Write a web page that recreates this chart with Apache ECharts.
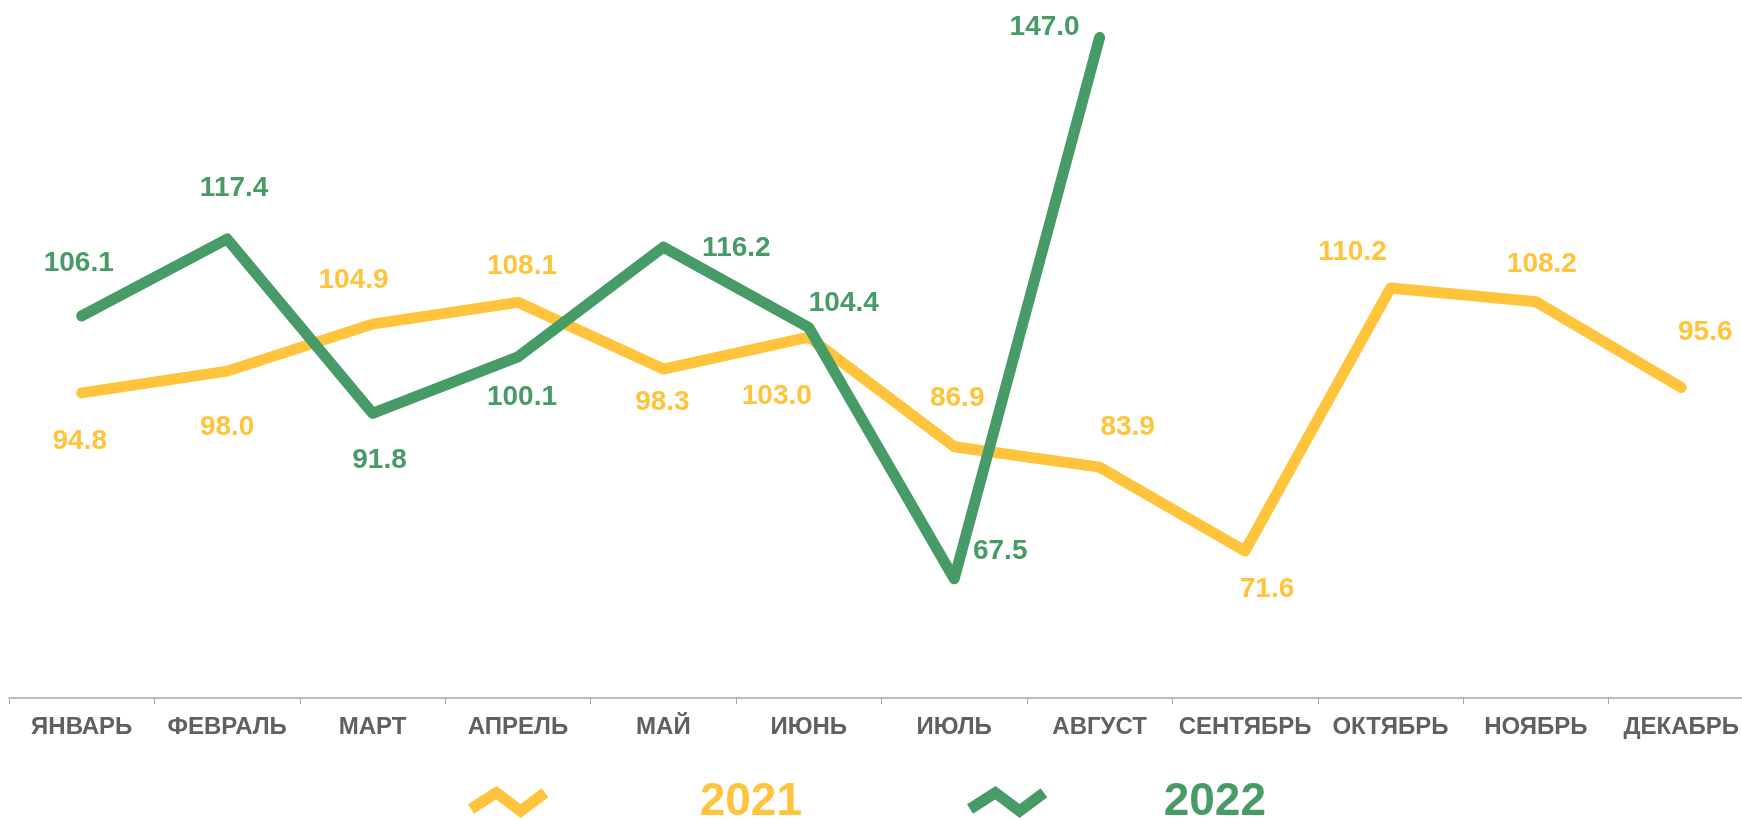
<!DOCTYPE html>
<html>
<head>
<meta charset="utf-8">
<script src="https://cdn.jsdelivr.net/npm/echarts@6/dist/echarts.min.js"></script>
<style>
html,body{margin:0;padding:0;background:#fff;}
#chart{width:1742px;height:820px;}
</style>
</head>
<body>
<div id="chart"></div>
<script>
// ---- data ----
const months = ['ЯНВАРЬ','ФЕВРАЛЬ','МАРТ','АПРЕЛЬ','МАЙ','ИЮНЬ','ИЮЛЬ','АВГУСТ','СЕНТЯБРЬ','ОКТЯБРЬ','НОЯБРЬ','ДЕКАБРЬ'];
const seriesNames = ['2021','2022'];
const values2021 = [94.8, 98.0, 104.9, 108.1, 98.3, 103.0, 86.9, 83.9, 71.6, 110.2, 108.2, 95.6];
const values2022 = [106.1, 117.4, 91.8, 100.1, 116.2, 104.4, 67.5, 147.0];

// ---- style (label placement relative to each point) ----
const offsets2021 = [[-2,48],[0,56],[-19,-44],[4,-36],[-1,33],[-32,59],[3,-48],[28,-40],[22,38],[-38,-36],[6,-37],[24,-55]];
const offsets2022 = [[-3,-53],[7,-51],[7,47],[4,40],[73,1],[35,-24],[46,-28],[-55,-10]];

const YELLOW = '#FFC43C';
const GREEN = '#479B67';
const FONT = '"Liberation Sans", Arial, sans-serif';

const ICON = 'path://M1,17.4 L29.2,-0.7 L53,17.1 L73.7,1.6 L80.3,10.4 L53,30.9 L28.8,12.7 L7,26.6 Z';

function buildData(vals, offs, color) {
  return vals.map((v, i) => ({
    value: v,
    label: {
      show: true,
      position: 'inside',
      align: 'center',
      verticalAlign: 'middle',
      offset: offs[i],
      formatter: (p) => Number(p.value).toFixed(1),
      color: color,
      fontFamily: FONT,
      fontWeight: 'bold',
      fontSize: 28
    }
  }));
}

const chart = echarts.init(document.getElementById('chart'), null, {renderer: 'canvas'});
chart.setOption({
  animation: false,
  backgroundColor: '#ffffff',
  grid: {left: 9, width: 1745, top: 17, bottom: 122, containLabel: false, outerBoundsMode: 'none'},
  legend: {
    left: 463,
    top: 774,
    orient: 'horizontal',
    itemWidth: 81,
    itemHeight: 32,
    itemGap: 165,
    data: [
      {name: seriesNames[0], icon: ICON, itemStyle: {color: YELLOW},
       textStyle: {color: YELLOW, padding: [0, 0, 0, 146]}},
      {name: seriesNames[1], icon: ICON, itemStyle: {color: GREEN},
       textStyle: {color: GREEN, padding: [0, 0, 0, 111]}}
    ],
    textStyle: {
      fontFamily: FONT,
      fontWeight: 'bold',
      fontSize: 46
    }
  },
  xAxis: {
    type: 'category',
    data: months,
    boundaryGap: true,
    axisLine: {show: true, lineStyle: {color: '#A6A6A6', width: 1.5}},
    axisTick: {show: true, length: 6, lineStyle: {color: '#A6A6A6', width: 1}},
    axisLabel: {
      color: '#606060',
      fontFamily: FONT,
      fontWeight: 'bold',
      fontSize: 24,
      margin: 17,
      interval: 0
    },
    splitLine: {show: false}
  },
  yAxis: {
    type: 'value',
    min: 50,
    max: 150,
    show: false,
    splitLine: {show: false}
  },
  series: [
    {
      name: seriesNames[0],
      type: 'line',
      data: buildData(values2021, offsets2021, YELLOW),
      symbol: 'circle',
      symbolSize: 0.1,
      showSymbol: true,
      lineStyle: {color: YELLOW, width: 11, cap: 'round', join: 'round'},
      itemStyle: {color: YELLOW},
      z: 2
    },
    {
      name: seriesNames[1],
      type: 'line',
      data: buildData(values2022, offsets2022, GREEN),
      symbol: 'circle',
      symbolSize: 0.1,
      showSymbol: true,
      lineStyle: {color: GREEN, width: 11, cap: 'round', join: 'round'},
      itemStyle: {color: GREEN},
      z: 3
    }
  ]
});
</script>
</body>
</html>
